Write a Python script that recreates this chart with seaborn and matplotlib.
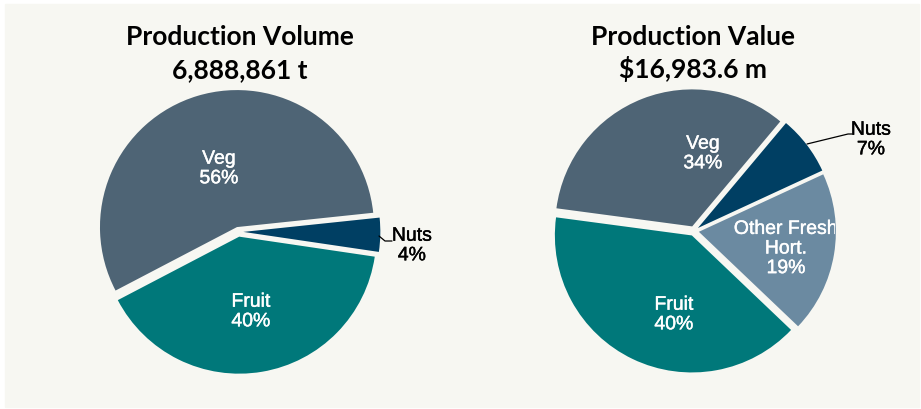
import numpy as np
import matplotlib.pyplot as plt
import matplotlib.patheffects as pe
import seaborn as sns
from matplotlib.patches import Rectangle

sns.set_theme(style="white")
plt.rcParams['font.family'] = ['Liberation Sans', 'DejaVu Sans']

# data
vol_labels = ["Nuts", "Fruit", "Veg"]
vol_pct = [4, 40, 56]
val_labels = ["Nuts", "Other Fresh\nHort.", "Fruit", "Veg"]
val_pct = [7, 19, 40, 34]
vol_total = "6,888,861 t"
val_total = "$16,983.6 m"

col = {"Veg": "#4e6475", "Fruit": "#00787a", "Nuts": "#003f63",
       "Other Fresh\nHort.": "#6b8aa1"}
bg = "#f7f7f2"

W, H = 921, 410
R = 137.0
fig = plt.figure(figsize=(W / 100, H / 100), dpi=100, facecolor="white")
fig.patches.append(Rectangle((5 / W, 2 / H), 914 / W, 403 / H,
                             transform=fig.transFigure, color=bg, zorder=-5))


def pie_axes():
    ax = fig.add_axes([0, 0, 1, 1])
    ax.patch.set_alpha(0)
    return ax


def px(cx, cy, x, y):
    # pixel position (y from top) -> pie units, centre (cx, cy), radius 1
    return (x - cx) / R, (cy - y) / R


def draw(ax, cx, cy, labels, pct, start, pos, outside, leader, clip_x=None):
    ax.pie(pct, colors=[col[l] for l in labels], startangle=start,
           counterclock=False, explode=[0.036] * len(pct), radius=1,
           frame=True, wedgeprops=dict(linewidth=0))
    ax.set_xlim(-cx / R, (W - cx) / R)
    ax.set_ylim(-(H - cy) / R, cy / R)
    ax.axis("off")
    for lab, p in zip(labels, pct):
        x, y = px(cx, cy, *pos[lab])
        c = "black" if lab in outside else "white"
        t = ax.text(x, y, f"{lab}\n{p}%", ha="center", va="center", color=c,
                    fontsize=14, linespacing=1.2, multialignment="center",
                    path_effects=[pe.withStroke(linewidth=0.3, foreground=c)])
        if clip_x is not None and lab == "Other Fresh\nHort.":
            t.set_clip_on(True)
            t.set_clip_path(Rectangle((-2, -2), clip_x + 2, 4,
                                      transform=ax.transData))
    xs, ys = zip(*[px(cx, cy, a, b) for a, b in leader])
    ax.plot(xs, ys, color="black", lw=0.9)


cxl, cyl = 238.4, 232.8
axl = pie_axes()
draw(axl, cxl, cyl, vol_labels, vol_pct, 6,
     {"Veg": (219, 170), "Fruit": (251, 313), "Nuts": (412, 247)},
     ["Nuts"], [(379, 237), (385, 242), (392, 242)])

cxr, cyr = 694.0, 232.0
axr = pie_axes()
draw(axr, cxr, cyr, val_labels, val_pct, 50,
     {"Veg": (703, 155), "Fruit": (674, 316), "Nuts": (871, 141),
      "Other Fresh\nHort.": (786, 250)},
     ["Nuts"], [(807, 145), (848, 135), (852, 135)],
     clip_x=(835 - cxr) / R)

tf = dict(fontsize=19, fontweight="bold", family=["Lato", "DejaVu Sans"],
          ha="center", va="baseline", color="black")
fig.text(240 / W, 1 - 45 / H, "Production Volume", **tf)
fig.text(240 / W, 1 - 78 / H, vol_total, **tf)
fig.text(693 / W, 1 - 45 / H, "Production Value", **tf)
fig.text(693 / W, 1 - 78 / H, val_total, **tf)

fig.savefig("out.png", dpi=100, facecolor="white")
